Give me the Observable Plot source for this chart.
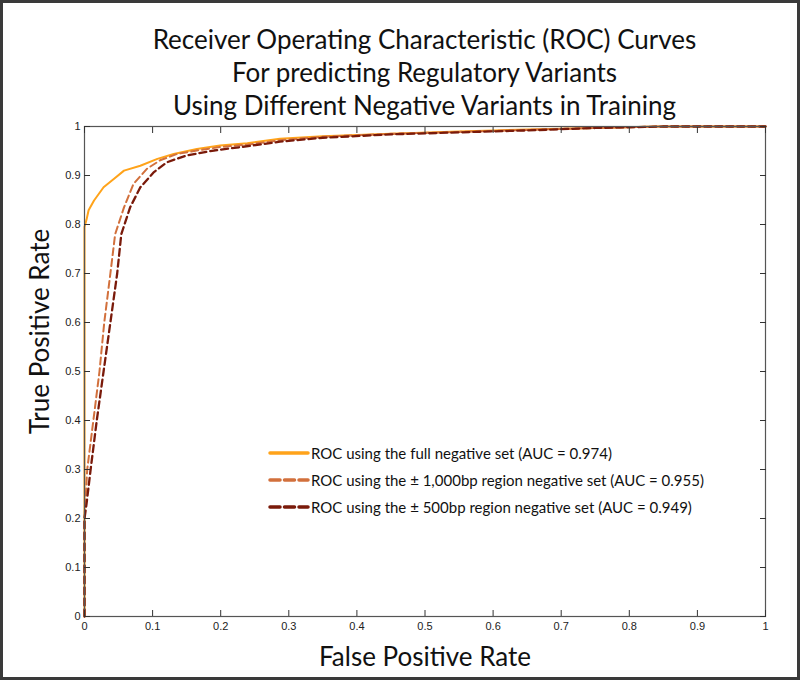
<!DOCTYPE html>
<html>
<head>
<meta charset="utf-8">
<script src="https://cdn.jsdelivr.net/npm/d3@7"></script>
<script src="https://cdn.jsdelivr.net/npm/@observablehq/plot@0.6"></script>
<style>
  html, body { margin: 0; padding: 0; background: #fff; }
  #wrap { position: relative; width: 800px; height: 680px; box-sizing: border-box; border: 3px solid #3a3a3a; background: #fff; overflow: hidden; }
  #title { position: absolute; left: 81px; width: 681px; top: 20px; text-align: center; font-family: Lato, "Open Sans", sans-serif; font-size: 26px; line-height: 33px; color: #111; }
  #legend { position: absolute; left: 265px; top: 436px; font-family: Lato, "Open Sans", sans-serif; font-size: 15px; color: #111; }
  #legend .row { display: flex; align-items: center; height: 27px; }
  #legend svg { display: block; margin-right: 1px; }
  #chart svg { display: block; }
</style>
</head>
<body>
<div id="wrap">
  <div id="chart"></div>
  <div id="title">Receiver Operating Characteristic (ROC) Curves<br>For predicting Regulatory Variants<br>Using Different Negative Variants in Training</div>
  <div id="legend"></div>
</div>
<script>
// ---- data ----
const seriesNames = [
  "ROC using the full negative set (AUC = 0.974)",
  "ROC using the \u00B1 1,000bp region negative set (AUC = 0.955)",
  "ROC using the \u00B1 500bp region negative set (AUC = 0.949)"
];
const seriesColors = ["#FFA31A", "#D2703C", "#7A1A0A"];

const fprFull = [0, 0, 0.003, 0.006, 0.014, 0.028, 0.043, 0.058, 0.082, 0.107, 0.131, 0.165, 0.199, 0.239, 0.287, 0.35, 0.45, 0.55, 0.65, 0.75, 0.84, 1];
const tprFull = [0, 0.795, 0.81, 0.829, 0.849, 0.876, 0.893, 0.910, 0.920, 0.934, 0.944, 0.954, 0.961, 0.966, 0.975, 0.980, 0.985, 0.990, 0.994, 0.997, 1, 1];

const fpr1000 = [0, 0, 0.004, 0.013, 0.022, 0.029, 0.038, 0.045, 0.058, 0.072, 0.092, 0.111, 0.136, 0.165, 0.199, 0.239, 0.287, 0.35, 0.45, 0.55, 0.65, 0.75, 0.85, 1];
const tpr1000 = [0, 0.2, 0.3, 0.4, 0.5, 0.6, 0.7, 0.78, 0.835, 0.883, 0.914, 0.931, 0.944, 0.951, 0.958, 0.963, 0.972, 0.979, 0.985, 0.989, 0.993, 0.997, 1, 1];

const fpr500 = [0, 0, 0.003, 0.009, 0.018, 0.028, 0.038, 0.048, 0.054, 0.067, 0.082, 0.102, 0.121, 0.150, 0.190, 0.229, 0.287, 0.35, 0.45, 0.55, 0.65, 0.75, 0.85, 1];
const tpr500 = [0, 0.2, 0.23, 0.3, 0.4, 0.5, 0.6, 0.7, 0.78, 0.835, 0.876, 0.907, 0.927, 0.941, 0.951, 0.958, 0.969, 0.977, 0.984, 0.988, 0.992, 0.997, 1, 1];

const xTicks = [0, 0.1, 0.2, 0.3, 0.4, 0.5, 0.6, 0.7, 0.8, 0.9, 1];
const xTickLabels = ["0", "0.1", "0.2", "0.3", "0.4", "0.5", "0.6", "0.7", "0.8", "0.9", "1"];
const yTicks = [0, 0.1, 0.2, 0.3, 0.4, 0.5, 0.6, 0.7, 0.8, 0.9, 1];
const yTickLabels = ["0", "0.1", "0.2", "0.3", "0.4", "0.5", "0.6", "0.7", "0.8", "0.9", "1"];
const xLabel = "False Positive Rate";
const yLabel = "True Positive Rate";

// ---- build tables ----
const toRows = (xs, ys) => xs.map((x, i) => ({fpr: x, tpr: ys[i]}));
const full = toRows(fprFull, tprFull);
const r1000 = toRows(fpr1000, tpr1000);
const r500 = toRows(fpr500, tpr500);
const fmtX = d => xTickLabels[xTicks.indexOf(d)];
const fmtY = d => yTickLabels[yTicks.indexOf(d)];

const chart = Plot.plot({
  width: 794,
  height: 674,
  marginTop: 123,
  marginBottom: 61,
  marginLeft: 81,
  marginRight: 32,
  x: {domain: [0, 1], label: null},
  y: {domain: [0, 1], label: null},
  style: {fontFamily: "'Liberation Sans', Arial, sans-serif", fontSize: "11px", color: "#222", background: "white", overflow: "visible"},
  marks: [
    Plot.line(full, {x: "fpr", y: "tpr", stroke: seriesColors[0], strokeWidth: 2}),
    Plot.line(r1000, {x: "fpr", y: "tpr", stroke: seriesColors[1], strokeWidth: 2, strokeDasharray: "7,4"}),
    Plot.line(r500, {x: "fpr", y: "tpr", stroke: seriesColors[2], strokeWidth: 2.3, strokeDasharray: "7,4"}),
    Plot.frame({stroke: "#555", strokeWidth: 1.2}),
    Plot.axisX({ticks: xTicks, tickSize: -6, tickPadding: 12, tickFormat: fmtX, stroke: "#333", label: null}),
    Plot.axisX({anchor: "top", ticks: xTicks, tickSize: -6, tickFormat: () => "", stroke: "#333", label: null}),
    Plot.axisY({ticks: yTicks, tickSize: -6, tickPadding: 10, tickFormat: fmtY, stroke: "#333", label: null}),
    Plot.axisY({anchor: "right", ticks: yTicks, tickSize: -6, tickFormat: () => "", stroke: "#333", label: null}),
    Plot.text([xLabel], {frameAnchor: "bottom", lineAnchor: "middle", textAnchor: "middle", dy: 41, fontSize: 26, fontFamily: "Lato, 'Open Sans', sans-serif", fill: "#111"}),
    Plot.text([yLabel], {frameAnchor: "left", lineAnchor: "middle", textAnchor: "middle", rotate: -90, dx: -44, dy: -40, fontSize: 26, fontFamily: "Lato, 'Open Sans', sans-serif", fill: "#111"})
  ]
});
document.getElementById("chart").appendChild(chart);

// ---- legend ----
const legend = document.getElementById("legend");
const dashes = [null, "10,4.5", "10,4.5"];
seriesNames.forEach((name, i) => {
  const row = document.createElement("div");
  row.className = "row";
  const ns = "http://www.w3.org/2000/svg";
  const s = document.createElementNS(ns, "svg");
  s.setAttribute("width", 42);
  s.setAttribute("height", 10);
  const l = document.createElementNS(ns, "line");
  l.setAttribute("x1", 2); l.setAttribute("x2", 40);
  l.setAttribute("y1", 5); l.setAttribute("y2", 5);
  l.setAttribute("stroke", seriesColors[i]);
  l.setAttribute("stroke-width", 3.5);
  l.setAttribute("stroke-linecap", "round");
  if (dashes[i]) l.setAttribute("stroke-dasharray", dashes[i]);
  s.appendChild(l);
  row.appendChild(s);
  const t = document.createElement("span");
  t.textContent = name;
  row.appendChild(t);
  legend.appendChild(row);
});
</script>
</body>
</html>
